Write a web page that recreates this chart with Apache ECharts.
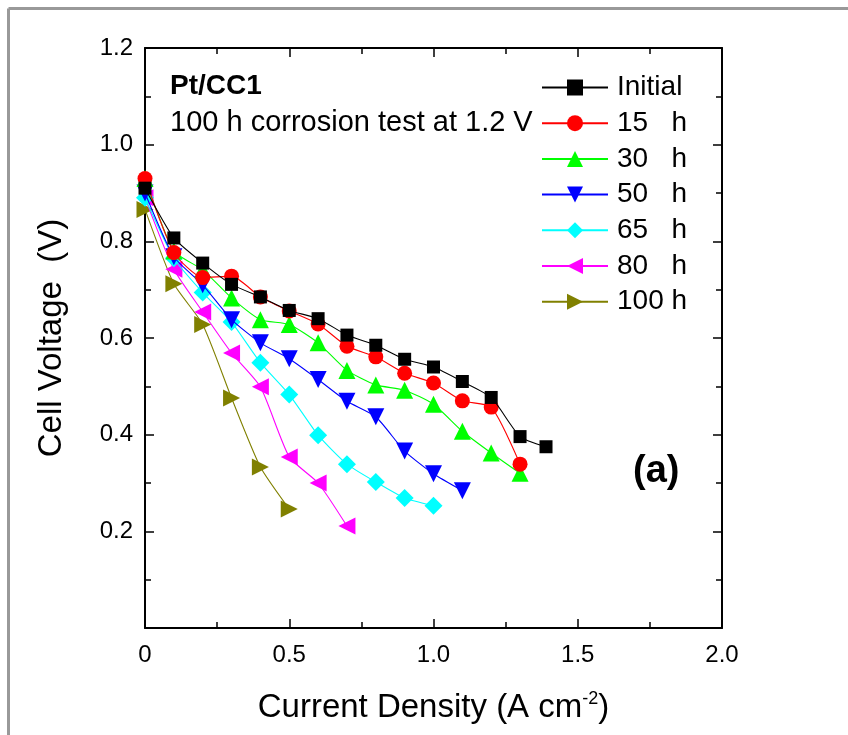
<!DOCTYPE html>
<html>
<head>
<meta charset="utf-8">
<script src="https://cdn.jsdelivr.net/npm/echarts@6/dist/echarts.min.js"></script>
<style>
html,body{margin:0;padding:0;background:#fff;}
#c{width:848px;height:735px;}
</style>
</head>
<body>
<div id="c"></div>
<script>
var seriesNames = ['Initial', '15   h', '30   h', '50   h', '65   h', '80   h', '100 h'];
var xInitial = [0, 0.1, 0.2, 0.3, 0.4, 0.5, 0.6, 0.7, 0.8, 0.9, 1.0, 1.1, 1.2, 1.3, 1.39];
var yInitial = [0.91, 0.807, 0.755, 0.711, 0.685, 0.657, 0.640, 0.606, 0.585, 0.556, 0.540, 0.510, 0.477, 0.396, 0.375];
var x15 = [0, 0.1, 0.2, 0.3, 0.4, 0.5, 0.6, 0.7, 0.8, 0.9, 1.0, 1.1, 1.2, 1.3];
var y15 = [0.93, 0.777, 0.725, 0.728, 0.685, 0.656, 0.629, 0.583, 0.561, 0.527, 0.507, 0.470, 0.457, 0.339];
var x30 = [0, 0.1, 0.2, 0.3, 0.4, 0.5, 0.6, 0.7, 0.8, 0.9, 1.0, 1.1, 1.2, 1.3];
var y30 = [0.93, 0.780, 0.741, 0.683, 0.638, 0.628, 0.590, 0.533, 0.503, 0.492, 0.463, 0.407, 0.362, 0.320];
var x50 = [0, 0.1, 0.2, 0.3, 0.4, 0.5, 0.6, 0.7, 0.8, 0.9, 1.0, 1.1];
var y50 = [0.90, 0.768, 0.710, 0.638, 0.590, 0.557, 0.514, 0.469, 0.437, 0.366, 0.319, 0.284];
var x65 = [0, 0.1, 0.2, 0.3, 0.4, 0.5, 0.6, 0.7, 0.8, 0.9, 1.0];
var y65 = [0.89, 0.765, 0.694, 0.633, 0.549, 0.483, 0.399, 0.339, 0.302, 0.269, 0.253];
var x80 = [0, 0.1, 0.2, 0.3, 0.4, 0.5, 0.6, 0.7];
var y80 = [0.89, 0.742, 0.654, 0.569, 0.499, 0.354, 0.300, 0.211];
var x100 = [0, 0.1, 0.2, 0.3, 0.4, 0.5];
var y100 = [0.866, 0.712, 0.628, 0.476, 0.333, 0.246];
var xTickLabels = ['0', '0.5', '1.0', '1.5', '2.0'];
var yTickLabels = ['0.2', '0.4', '0.6', '0.8', '1.0', '1.2'];

var colors = ['#000000', '#ff0000', '#00ff00', '#0000ff', '#00ffff', '#ff00ff', '#808000'];
var symbols = ['rect', 'circle', 'triangle', 'triangle', 'diamond', 'triangle', 'triangle'];
var rotations = [0, 0, 0, 180, 0, 90, -90];
var sizes = [13, 15, 17, 17, 18, 17, 17];
var xs = [xInitial, x15, x30, x50, x65, x80, x100];
var ys = [yInitial, y15, y30, y50, y65, y80, y100];

function pair(x, y) { return x.map(function (v, i) { return [v, y[i]]; }); }

var series = seriesNames.map(function (n, i) {
  return {
    name: n, type: 'line', data: pair(xs[i], ys[i]),
    smooth: 0.2,
    symbol: symbols[i], symbolRotate: rotations[i], symbolSize: sizes[i],
    itemStyle: { color: colors[i] },
    lineStyle: { color: colors[i], width: 1.1 },
    z: 10 - i
  };
});

var F = 'Liberation Sans, Arial, sans-serif';
var chart = echarts.init(document.getElementById('c'), null, { renderer: 'canvas' });
function axisLine() { return { show: true, onZero: false, lineStyle: { color: '#000', width: 2 } }; }
function tick() { return { inside: true, length: 9, lineStyle: { color: '#000', width: 1.5 } }; }
function minor() { return { show: true, splitNumber: 2, length: 6, lineStyle: { color: '#000', width: 1.5 } }; }
chart.setOption({
  animation: false,
  backgroundColor: '#fff',
  grid: { left: 145, top: 48, right: 126, bottom: 107 },
  legend: {
    orient: 'vertical', left: 536, top: 68,
    itemWidth: 66, itemHeight: 20, itemGap: 6.7,
    textStyle: { fontFamily: F, fontSize: 28, color: '#000', lineHeight: 29, padding: [0, 0, 0, 4] },
    data: seriesNames
  },
  xAxis: [{
    type: 'value', min: 0, max: 2, interval: 0.5,
    axisLine: axisLine(), axisTick: tick(), minorTick: minor(),
    splitLine: { show: false },
    axisLabel: { fontFamily: F, fontSize: 24, color: '#000', margin: 15,
      formatter: function (v) { var i = Math.round(v / 0.5); return xTickLabels[i]; } },
    name: '{a|Current Density (A cm}{s|-2}{a|)}', nameLocation: 'middle', nameGap: 62,
    nameTextStyle: { rich: { a: { fontFamily: F, fontSize: 33, color: '#000' },
      s: { fontFamily: F, fontSize: 18, color: '#000', verticalAlign: 'top', padding: [0, 0, 18, 0] } } }
  }, {
    type: 'value', position: 'top', min: 0, max: 2, interval: 0.5,
    axisLine: axisLine(), axisTick: tick(), minorTick: minor(),
    splitLine: { show: false }, axisLabel: { show: false }
  }],
  yAxis: [{
    type: 'value', min: 0, max: 1.2, interval: 0.2,
    axisLine: axisLine(), axisTick: tick(), minorTick: minor(),
    splitLine: { show: false },
    axisLabel: { fontFamily: F, fontSize: 24, color: '#000', margin: 12,
      formatter: function (v) { if (v < 0.01) return ''; var i = Math.round(v / 0.2) - 1; return yTickLabels[i]; } },
    name: 'Cell Voltage  (V)', nameLocation: 'middle', nameGap: 77,
    nameTextStyle: { fontFamily: F, fontSize: 33, color: '#000' }
  }, {
    type: 'value', position: 'right', min: 0, max: 1.2, interval: 0.2,
    axisLine: axisLine(), axisTick: tick(), minorTick: minor(),
    splitLine: { show: false }, axisLabel: { show: false }
  }],
  graphic: [
    { type: 'line', shape: { x1: 8.5, y1: 8.5, x2: 848, y2: 8.5 }, style: { stroke: '#999', lineWidth: 3 } },
    { type: 'line', shape: { x1: 8.5, y1: 8.5, x2: 8.5, y2: 735 }, style: { stroke: '#999', lineWidth: 3 } },
    { type: 'text', x: 170, y: 86, style: { text: 'Pt/CC1', font: 'bold 28px ' + F, fill: '#000', textVerticalAlign: 'middle', verticalAlign: 'middle' } },
    { type: 'text', x: 170, y: 123, style: { text: '100 h corrosion test at 1.2 V', font: '29px ' + F, fill: '#000', textVerticalAlign: 'middle', verticalAlign: 'middle' } },
    { type: 'text', x: 633, y: 472, style: { text: '(a)', font: 'bold 38px ' + F, fill: '#000', textVerticalAlign: 'middle', verticalAlign: 'middle' } }
  ],
  series: series
});
</script>
</body>
</html>
